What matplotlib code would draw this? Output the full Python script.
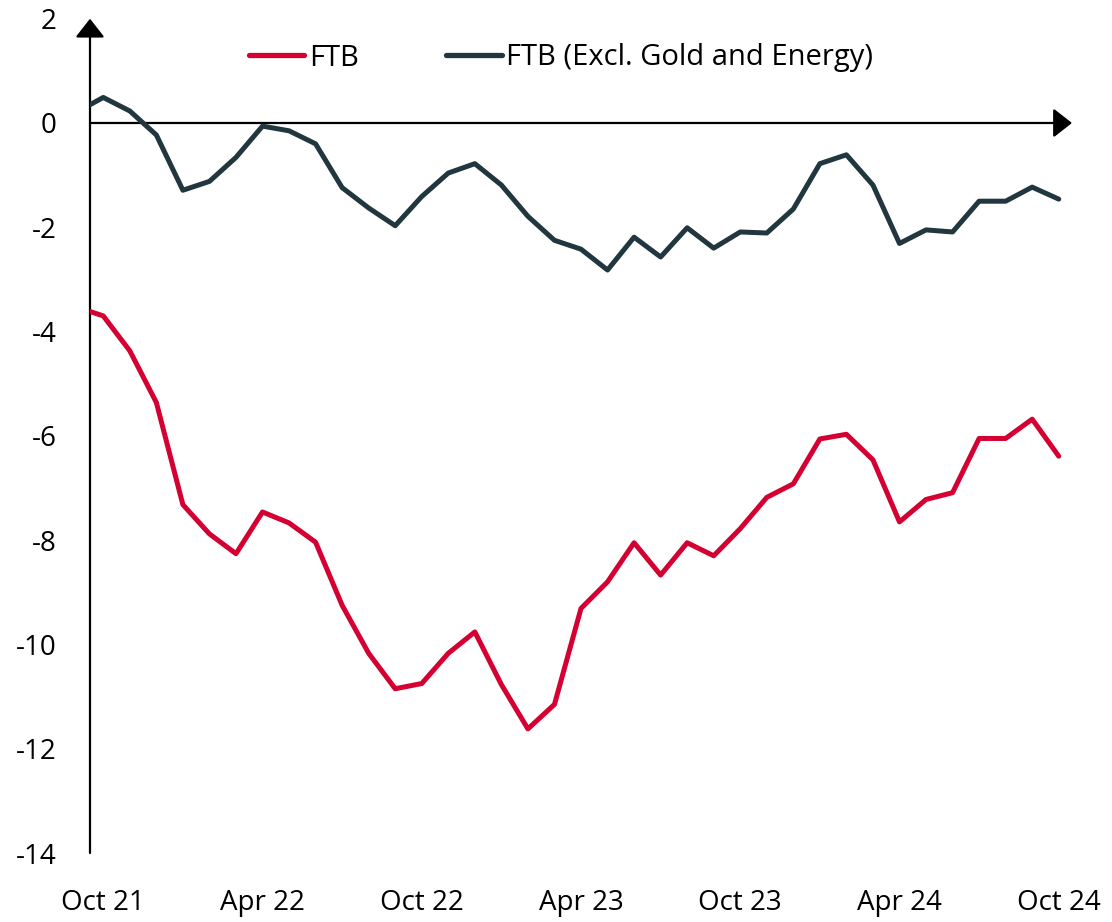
import matplotlib
matplotlib.use("Agg")
import matplotlib.pyplot as plt

plt.rcParams['font.family'] = ['Open Sans', 'DejaVu Sans']

# Months from Sep 21 (partially visible, clipped at the axis) to Oct 24
months = ["Sep 21",
          "Oct 21", "Nov 21", "Dec 21", "Jan 22", "Feb 22", "Mar 22", "Apr 22", "May 22", "Jun 22",
          "Jul 22", "Aug 22", "Sep 22", "Oct 22", "Nov 22", "Dec 22", "Jan 23", "Feb 23", "Mar 23",
          "Apr 23", "May 23", "Jun 23", "Jul 23", "Aug 23", "Sep 23", "Oct 23", "Nov 23", "Dec 23",
          "Jan 24", "Feb 24", "Mar 24", "Apr 24", "May 24", "Jun 24", "Jul 24", "Aug 24", "Sep 24",
          "Oct 24"]

ftb = [-3.53,
       -3.70, -4.37, -5.36, -7.32, -7.88, -8.26, -7.46, -7.67, -8.04,
       -9.25, -10.17, -10.85, -10.75, -10.17, -9.76, -10.77, -11.62, -11.15,
       -9.31, -8.80, -8.05, -8.67, -8.05, -8.30, -7.78, -7.18, -6.92,
       -6.06, -5.97, -6.46, -7.65, -7.22, -7.09, -6.05, -6.05, -5.68,
       -6.39]

ftb_excl = [0.21,
            0.49, 0.23, -0.23, -1.29, -1.12, -0.66, -0.06, -0.15, -0.40,
            -1.24, -1.63, -1.97, -1.41, -0.96, -0.78, -1.19, -1.79, -2.25,
            -2.42, -2.82, -2.19, -2.57, -2.01, -2.40, -2.09, -2.11, -1.65,
            -0.78, -0.61, -1.19, -2.31, -2.05, -2.09, -1.50, -1.50, -1.23,
            -1.46]

tick_labels = ["Oct 21", "Apr 22", "Oct 22", "Apr 23", "Oct 23", "Apr 24", "Oct 24"]
y_ticks = [2, 0, -2, -4, -6, -8, -10, -12, -14]

series_names = ["FTB", "FTB (Excl. Gold and Energy)"]
colors = ["#D50032", "#21363F"]

x = list(range(-1, len(months) - 1))  # Sep 21 -> -1, Oct 21 -> 0

fig = plt.figure(figsize=(11.12, 9.22), dpi=100)
ax = fig.add_axes([90/1112, 69/922, (1072-90)/1112, (853-18.7)/922])

ax.plot(x, ftb, color=colors[0], lw=3.6, solid_joinstyle='round', solid_capstyle='round',
        label=series_names[0], zorder=3)
ax.plot(x, ftb_excl, color=colors[1], lw=3.6, solid_joinstyle='round', solid_capstyle='round',
        label=series_names[1], zorder=3)

ax.set_xlim(-0.5, 36.5)
ax.set_ylim(-14, 2)

for s in ax.spines.values():
    s.set_visible(False)

# axes with arrows
arrow_kw = dict(arrowstyle='-|>,head_length=1.15,head_width=0.9', lw=1.6, color='black',
                mutation_scale=10, shrinkA=0, shrinkB=0)
ax.annotate('', xy=(36.5, 0), xytext=(-0.5, 0), arrowprops=arrow_kw, zorder=2,
            annotation_clip=False)
ax.annotate('', xy=(-0.5, 2), xytext=(-0.5, -14), arrowprops=arrow_kw, zorder=2,
            annotation_clip=False)

ax.set_xticks([i * 6 for i in range(len(tick_labels))])
ax.set_xticklabels(tick_labels)
ax.set_yticks(y_ticks)
ax.set_yticklabels([str(v) for v in y_ticks])
ax.tick_params(axis='both', length=0, labelsize=20, colors='black')
ax.tick_params(axis='x', pad=26)
ax.tick_params(axis='y', pad=24)

leg = ax.legend(loc='center left', bbox_to_anchor=(249/1112, 1 - 58/922),
                bbox_transform=fig.transFigure, ncol=2, frameon=False, fontsize=21,
                handlelength=1.9, handletextpad=0.15, columnspacing=3.0,
                borderpad=0, borderaxespad=0)
for line in leg.get_lines():
    line.set_linewidth(3.8)
    line.set_solid_capstyle('round')

fig.savefig("out.png", dpi=100)
